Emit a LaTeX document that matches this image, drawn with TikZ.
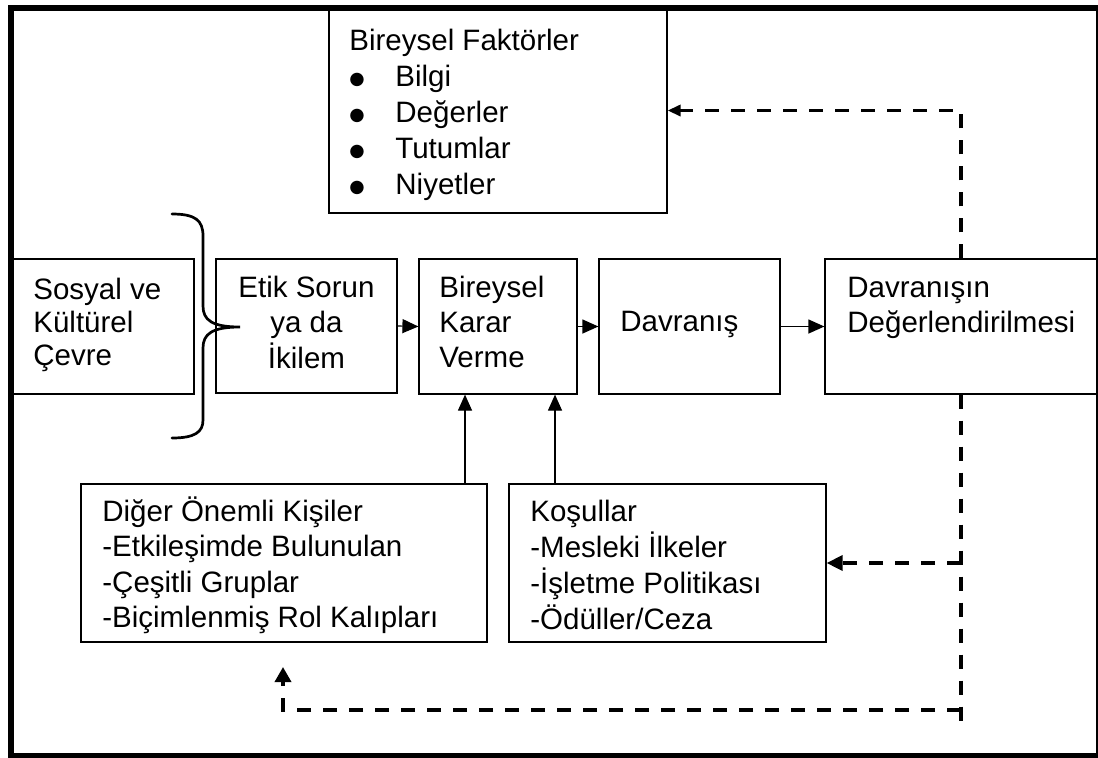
\documentclass[tikz,border=0pt]{standalone}
\usepackage{fontspec}
\setmainfont{Liberation Sans}
\newfontfamily\symfont{DejaVu Sans}
\usetikzlibrary{arrows.meta,fit}

% bullet marker for the list of individual factors
\newcommand{\blt}{\makebox[23pt][l]{\raisebox{0.6pt}{\fontsize{8.8pt}{8.8pt}\symfont ●}}}
% left- and centre-aligned line stacks, baseline on the first line
\newcommand{\lstack}[1]{\begin{tabular}[t]{@{}l@{}}#1\end{tabular}}
\newcommand{\cstack}[1]{\begin{tabular}[t]{@{}c@{}}#1\end{tabular}}

\begin{document}
\begin{tikzpicture}[x=0.5pt,y=-0.5pt,
  box/.style={draw,line width=0.6pt,inner sep=0pt},
  txt/.style={inner sep=0pt,font=\fontsize{14.75pt}{17.5pt}\selectfont},
  arr/.style={line width=0.6pt,-{Triangle[length=8pt,width=7pt]}},
  dsh/.style={line width=1.75pt,dash pattern=on 7pt off 6pt},
  dtip/.style={-{Triangle[length=8pt,width=7.5pt]}},
  stip/.style={-{Triangle[length=6.5pt,width=5.5pt]}},
  utip/.style={-{Triangle[length=7.5pt,width=8pt]}},
  frame/.style={line width=2.75pt},
  brace/.style={line width=1.35pt,line cap=round}]
\useasboundingbox (0,0) rectangle (1098,757);

% boxes
\node[box,fit={(329,8)(667,213)}] (bf) {};
\node[box,fit={(13,259)(194,394)}] (sk) {};
\node[box,fit={(216,259)(397,393)}] (es) {};
\node[box,fit={(419,259)(577,394)}] (bk) {};
\node[box,fit={(599,259)(780,394)}] (dv) {};
\node[box,fit={(825,259)(1097,394)}] (dd) {};
\node[box,fit={(81,484)(487,642)}] (do) {};
\node[box,fit={(509,484)(826,642)}] (ko) {};

% outer frame
\draw[frame] (11,8) rectangle (1098.5,755.5);

% texts
\node[txt,anchor=base west,font=\fontsize{14.75pt}{18pt}\selectfont] (t-bf) at (349,50)
  {\lstack{Bireysel Faktörler\\ \blt Bilgi\\ \blt Değerler\\ \blt Tutumlar\\ \blt Niyetler}};
\node[txt,anchor=base west,font=\fontsize{14.75pt}{16.5pt}\selectfont] (t-sk) at (33,299)
  {\lstack{Sosyal ve\\ Kültürel\\ Çevre}};
\node[txt,anchor=base] (t-es) at (306.5,297) {\cstack{Etik Sorun\\ ya da\\ İkilem}};
\node[txt,anchor=base west] (t-bk) at (439,297) {\lstack{Bireysel\\ Karar\\ Verme}};
\node[txt,anchor=base west] (t-dv) at (620,331) {Davranış};
\node[txt,anchor=base west] (t-dd) at (847,297) {\lstack{Davranışın\\ Değerlendirilmesi}};
\node[txt,anchor=base west,font=\fontsize{14.75pt}{17.75pt}\selectfont] (t-do) at (102,521)
  {\lstack{Diğer Önemli Kişiler\\ -Etkileşimde Bulunulan\\ -Çeşitli Gruplar\\ -Biçimlenmiş Rol Kalıpları}};
\node[txt,anchor=base west,font=\fontsize{14.75pt}{17.75pt}\selectfont] (t-ko) at (530,521)
  {\lstack{Koşullar\\ -Mesleki İlkeler\\ -İşletme Politikası\\ -Ödüller/Ceza}};

% brace gathering the social and cultural environment
\draw[brace] (172,214) .. controls (195,214) and (203,220) .. (203,236)
  -- (203,306) .. controls (203,320) and (212,327) .. (240,327)
  .. controls (212,327) and (203,334) .. (203,348)
  -- (203,420) .. controls (203,432) and (195,438) .. (172,438);

% main flow
\draw[arr] (es.east) -- (bk.west);
\draw[arr] (bk.east) -- (dv.west);
\draw[arr] (dv.east) -- (dd.west);
\coordinate (xa) at (465,0);
\coordinate (xb) at (555,0);
\draw[arr] (do.north -| xa) -- (bk.south -| xa);
\draw[arr] (ko.north -| xb) -- (bk.south -| xb);

% feedback lines
\coordinate (xd) at (961,0);
\coordinate (dend) at (961,732);
\coordinate (fc) at (961,710);
\coordinate (fb) at (283,667);
\draw[dsh,stip] (dd.north -| xd) |- (bf.east);
\draw[dsh] (dd.south -| xd) -- (dend);
\draw[dsh,dtip] (xd |- ko.east) -- (ko.east);
\draw[dsh,utip] (fc) -| (fb);
\end{tikzpicture}
\end{document}
